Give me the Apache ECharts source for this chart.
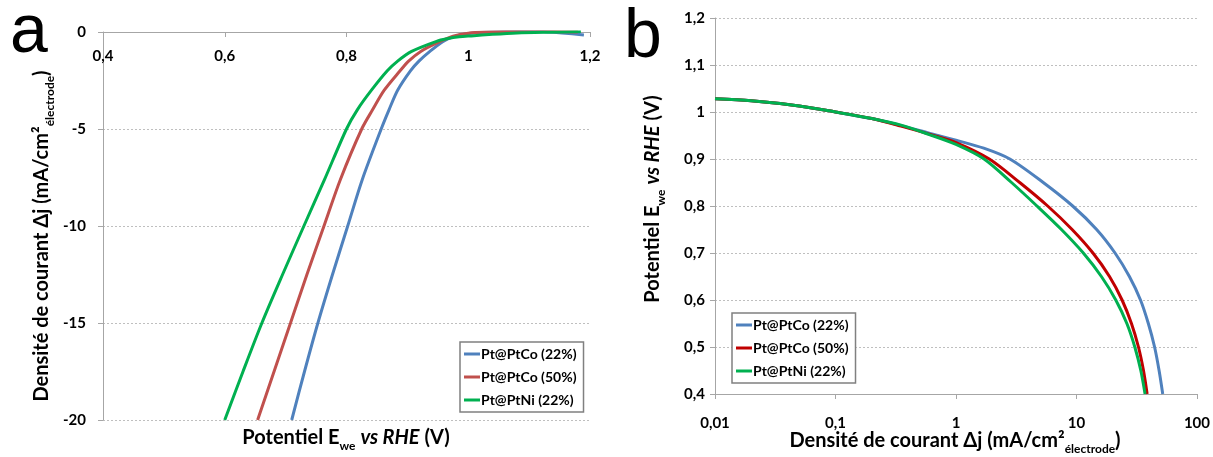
<!DOCTYPE html>
<html><head><meta charset="utf-8">
<script src="https://cdn.jsdelivr.net/npm/echarts@6/dist/echarts.min.js"></script>
<style>html,body{margin:0;padding:0;background:#fff}#c{width:1213px;height:457px}</style>
</head><body><div id="c"></div>
<script>
// ---------- names ----------
const seriesNames = ['Pt@PtCo (22%)', 'Pt@PtCo (50%)', 'Pt@PtNi (22%)'];

// ---------- panel a : Δj (mA/cm²) vs E (V) ----------
const aE_PtCo22 = [0.710,0.731,0.753,0.777,0.802,0.826,0.857,0.870,0.884,0.905,0.919,0.937,0.958,0.975,1.0,1.03,1.08,1.13,1.19];
const aJ_PtCo22 = [-20,-17.5,-15,-12.5,-10,-7.6,-5,-4,-3,-2,-1.5,-1,-0.5,-0.25,-0.08,-0.01,0.02,0.0,-0.15];
const aE_PtCo50 = [0.654,0.681,0.708,0.735,0.763,0.790,0.825,0.843,0.862,0.888,0.902,0.922,0.953,0.975,1.0,1.03,1.08,1.13,1.18];
const aJ_PtCo50 = [-20,-17.5,-15,-12.5,-10,-7.6,-5,-4,-3,-2,-1.5,-1,-0.5,-0.22,-0.06,0.0,0.03,0.03,0.0];
const aE_PtNi22 = [0.600,0.630,0.661,0.695,0.730,0.764,0.800,0.818,0.841,0.867,0.884,0.907,0.948,0.965,0.985,1.005,1.04,1.08,1.13,1.185];
const aJ_PtNi22 = [-20,-17.5,-15,-12.5,-10,-7.6,-5,-4,-3,-2,-1.5,-1,-0.48,-0.35,-0.25,-0.2,-0.12,-0.05,-0.01,0.02];
const aXTickLabels = ['0,4','0,6','0,8','1','1,2'];
const aYTickLabels = ['-20','-15','-10','-5','0'];

// ---------- panel b : E (V) vs Δj (log) ----------
const bJ_PtCo22 = [0.01,0.02,0.05,0.1,0.2,0.35,0.6,1,1.7,2.8,5.3,9.3,14.7,20.9,27.5,34.0,39.5,44.5,48.5,52.0];
const bE_PtCo22 = [1.028,1.024,1.013,1.0,0.986,0.971,0.955,0.94,0.923,0.90,0.85,0.80,0.75,0.70,0.65,0.60,0.55,0.50,0.45,0.40];
const bJ_PtCo50 = [0.01,0.02,0.05,0.1,0.2,0.35,0.6,1,1.89,3.38,5.77,9.2,13.7,18.8,23.9,28.6,32.7,36.0,38.6];
const bE_PtCo50 = [1.028,1.024,1.013,1.0,0.986,0.970,0.953,0.935,0.90,0.85,0.80,0.75,0.70,0.65,0.60,0.55,0.50,0.45,0.40];
const bJ_PtNi22 = [0.01,0.02,0.05,0.1,0.2,0.35,0.6,1,1.71,2.89,4.7,7.5,11.4,16.1,21.2,26.2,30.5,34.2,37.1];
const bE_PtNi22 = [1.028,1.024,1.013,1.0,0.986,0.972,0.952,0.931,0.90,0.85,0.80,0.75,0.70,0.65,0.60,0.55,0.50,0.45,0.40];
const bXTickLabels = ['0,01','0,1','1','10','100'];
const bYTickLabels = ['0,4','0,5','0,6','0,7','0,8','0,9','1','1,1','1,2'];

const colorsA = ['#4F81BD', '#C0504D', '#00B050'];
const colorsB = ['#4F81BD', '#C00000', '#00B050'];

const zip = (a, b) => a.map((v, i) => [v, b[i]]);
const FONT = 'Lato';
const axisGray = '#A6A6A6';

const labelStyle = { color: '#000', fontWeight: 'bold', fontSize: 15, fontFamily: FONT };
const richTitle = {
  t: { fontSize: 20, fontWeight: 'bold', fontFamily: FONT, fill: '#000', color: '#000', lineHeight: 28, verticalAlign: 'middle' },
  i: { fontSize: 20, fontWeight: 'bold', fontStyle: 'italic', fontFamily: FONT, fill: '#000', color: '#000', lineHeight: 28, verticalAlign: 'middle' },
  s: { fontSize: 12, fontWeight: 'bold', fontFamily: FONT, fill: '#000', color: '#000', lineHeight: 28, verticalAlign: 'bottom' }
};
const densityTitle = '{t|Densité de courant Δj (mA/cm²}{s|électrode}{t|)}';
const potentialTitle = '{t|Potentiel E}{s|we}{t| }{i|vs RHE}{t| (V)}';

const aData = [zip(aE_PtCo22, aJ_PtCo22), zip(aE_PtCo50, aJ_PtCo50), zip(aE_PtNi22, aJ_PtNi22)];
const bData = [zip(bJ_PtCo22, bE_PtCo22), zip(bJ_PtCo50, bE_PtCo50), zip(bJ_PtNi22, bE_PtNi22)];

const series = [];
seriesNames.forEach((n, k) => {
  series.push({ name: n, type: 'line', xAxisIndex: 0, yAxisIndex: 0, data: aData[k], smooth: 0.3,
    showSymbol: false, lineStyle: { width: 3, color: colorsA[k] }, itemStyle: { color: colorsA[k] }, z: 3 + (k === 2 ? 1 : 0) });
});
seriesNames.forEach((n, k) => {
  series.push({ name: n, type: 'line', xAxisIndex: 1, yAxisIndex: 1, data: bData[k], smooth: 0.3,
    showSymbol: false, lineStyle: { width: 3, color: colorsB[k] }, itemStyle: { color: colorsB[k] } });
});

const legendBase = {
  orient: 'vertical', icon: 'rect', itemWidth: 16, itemHeight: 3, itemGap: 9,
  backgroundColor: '#fff', borderColor: '#808080', borderWidth: 1.5, padding: [5, 7, 5, 4],
  selectedMode: false, textStyle: { color: '#000', fontWeight: 'bold', fontSize: 14, fontFamily: FONT, padding: [0,0,0,-4] }
};

function titleText(x, y, text, rot) {
  return { type: 'text', x: x, y: y, rotation: rot || 0,
    style: { text: text, rich: richTitle, align: 'center', verticalAlign: 'middle', fill: '#000' } };
}

const chart = echarts.init(document.getElementById('c'), null, { renderer: 'canvas' });
chart.setOption({
  animation: false,
  backgroundColor: '#fff',
  grid: [
    { left: 103, top: 32, width: 487, height: 388 },
    { left: 715, top: 18, width: 483, height: 376 }
  ],
  xAxis: [
    { gridIndex: 0, type: 'value', position: 'top', min: 0.4, max: 1.2, interval: 0.2,
      axisLine: { onZero: false, lineStyle: { color: axisGray, width: 1 } },
      axisTick: { show: true, inside: true, length: 5, lineStyle: { color: axisGray } },
      splitLine: { show: false },
      axisLabel: Object.assign({}, labelStyle, { inside: true, margin: 17, formatter: v => aXTickLabels[Math.round((v - 0.4) / 0.2)] }) },
    { gridIndex: 1, type: 'log', logBase: 10, min: 0.01, max: 100,
      axisLine: { onZero: false, lineStyle: { color: axisGray, width: 1 } },
      axisTick: { show: true, length: 5, lineStyle: { color: axisGray } },
      minorTick: { show: false }, splitLine: { show: false },
      axisLabel: Object.assign({}, labelStyle, { margin: 22, formatter: v => bXTickLabels[Math.round(Math.log10(v) + 2)] }) }
  ],
  yAxis: [
    { gridIndex: 0, type: 'value', min: -20, max: 0, interval: 5,
      axisLine: { show: true, onZero: false, lineStyle: { color: axisGray, width: 1 } },
      axisTick: { show: true, length: 5, lineStyle: { color: axisGray } },
      splitLine: { show: true, lineStyle: { type: [2, 2], color: '#BFBFBF' } },
      axisLabel: Object.assign({}, labelStyle, { margin: 17, formatter: v => aYTickLabels[Math.round((v + 20) / 5)] }) },
    { gridIndex: 1, type: 'value', min: 0.4, max: 1.2, interval: 0.1,
      axisLine: { show: true, onZero: false, lineStyle: { color: axisGray, width: 1 } },
      axisTick: { show: true, length: 5, lineStyle: { color: axisGray } },
      splitLine: { show: true, lineStyle: { type: [2, 2], color: '#BFBFBF' } },
      axisLabel: Object.assign({}, labelStyle, { margin: 10, formatter: v => bYTickLabels[Math.round((v - 0.4) / 0.1)] }) }
  ],
  legend: [
    Object.assign({}, legendBase, { left: 460, top: 342,
      data: seriesNames.map((n, k) => ({ name: n, itemStyle: { color: colorsA[k] } })) }),
    Object.assign({}, legendBase, { left: 732, top: 313,
      data: seriesNames.map((n, k) => ({ name: n, itemStyle: { color: colorsB[k] } })) })
  ],
  graphic: [
    titleText(346, 438, potentialTitle, 0),
    titleText(42, 236, densityTitle, Math.PI / 2),
    titleText(955, 441, densityTitle, 0),
    titleText(653, 199, potentialTitle, Math.PI / 2),
    { type: 'text', x: 10, y: -1, style: { text: 'a', fontSize: 68, fontFamily: 'Liberation Sans', fill: '#000' } },
    { type: 'text', x: 624, y: 4, style: { text: 'b', fontSize: 68, fontFamily: 'Liberation Sans', fill: '#000' } }
  ],
  series: series
});
</script></body></html>
